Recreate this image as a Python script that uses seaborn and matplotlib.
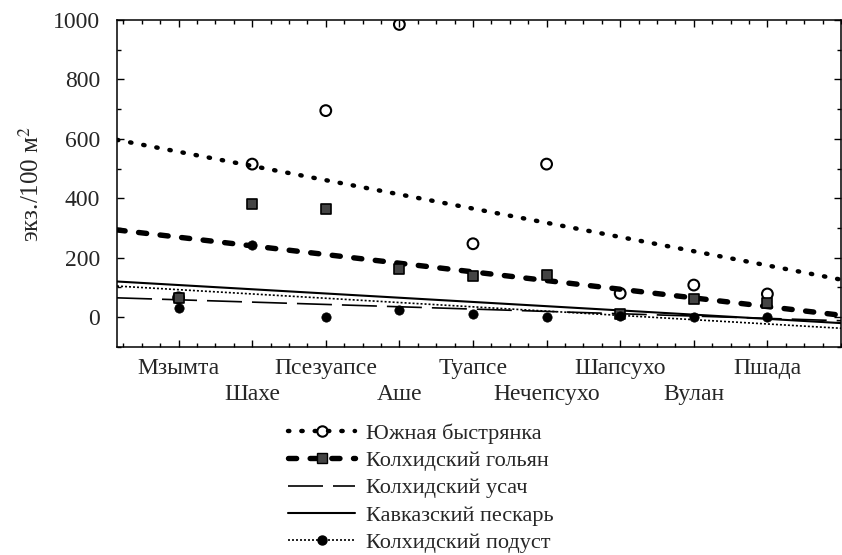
import numpy as np
import pandas as pd
import matplotlib
matplotlib.use("Agg")
import matplotlib.pyplot as plt
from matplotlib.lines import Line2D
from matplotlib.ticker import MultipleLocator, FixedLocator
import seaborn as sns

# ---- data ----
rivers = ["Мзымта", "Шахе", "Псезуапсе", "Аше", "Туапсе",
          "Нечепсухо", "Шапсухо", "Вулан", "Пшада"]
bystryanka = [65, 515, 695, 985, 247, 515, 80, 108, 78]   # Южная быстрянка
golyan = [65, 380, 363, 162, 139, 142, 12, 61, 47]         # Колхидский гольян
podust = [30, 244, 0, 24, 10, 0, 5, 0, 0]                  # Колхидский подуст
# trend lines shown without points: value at left edge, value at right edge
usach_trend = [65, -12]     # Колхидский усач
peskar_trend = [120, -20]   # Кавказский пескарь
yticks = [0, 200, 400, 600, 800, 1000]
species = ["Южная быстрянка", "Колхидский гольян", "Колхидский усач",
           "Кавказский пескарь", "Колхидский подуст"]

sns.set_theme(style="white")
plt.rcParams["font.family"] = ["Liberation Serif", "DejaVu Serif"]
plt.rcParams["mathtext.fontset"] = "stix"

FS = 17

fig = plt.figure(figsize=(8.42, 5.55), dpi=100)
ax = fig.add_axes([0.139, 0.375, 0.8598, 0.589])

pos = np.arange(1, len(rivers) + 1)
XLIM = (0.164, 10.0)
ax.set_xlim(*XLIM)
ax.set_ylim(-100, 1000)

df = pd.DataFrame({"x": pos, "b": bystryanka, "g": golyan, "p": podust})

st_b = dict(color="black", lw=3.2, linestyle=(0, (0.3, 2.7)), dash_capstyle="round")
st_g = dict(color="black", lw=3.9, linestyle=(0, (1.5, 2.5)), dash_capstyle="round")
st_u = dict(color="black", lw=1.2, linestyle=(0, (21, 6)))
st_k = dict(color="black", lw=1.5, linestyle="-")
st_p = dict(color="black", lw=1.2, linestyle=(0, (1.2, 1.2)))

sns.regplot(data=df, x="x", y="b", scatter=False, ci=None, truncate=False, ax=ax, line_kws=st_b)
sns.regplot(data=df, x="x", y="g", scatter=False, ci=None, truncate=False, ax=ax, line_kws=st_g)
sns.regplot(data=df, x="x", y="p", scatter=False, ci=None, truncate=False, ax=ax, line_kws=st_p)
ax.plot(list(XLIM), usach_trend, **st_u)
ax.plot(list(XLIM), peskar_trend, **st_k)

sns.scatterplot(data=df, x="x", y="b", marker="o", s=60, facecolor="none",
                edgecolor="black", linewidth=1.5, ax=ax, zorder=5)
sns.scatterplot(data=df, x="x", y="g", marker="s", s=45, color="#444444",
                edgecolor="black", linewidth=1.2, ax=ax, zorder=5)
sns.scatterplot(data=df, x="x", y="p", marker="o", s=45, color="black",
                edgecolor="black", linewidth=0.5, ax=ax, zorder=5)

ax.set_xlim(*XLIM)
ax.set_ylim(-100, 1000)

# first row of river names (odd positions) on the main axis
ax.xaxis.set_major_locator(FixedLocator(pos))
ax.set_xticklabels([r if i % 2 == 0 else "" for i, r in enumerate(rivers)], fontsize=FS)
ax.xaxis.set_minor_locator(MultipleLocator(0.25))
ax.set_yticks(yticks)
ax.set_yticklabels([str(v) for v in yticks], fontsize=FS)
ax.yaxis.set_minor_locator(MultipleLocator(100))
ax.tick_params(which="both", direction="in", top=True, right=True, bottom=True, left=True,
               color="black", width=1.0)
ax.tick_params(which="major", length=5)
ax.tick_params(which="minor", length=3)
ax.tick_params(axis="x", which="major", pad=8)
ax.tick_params(axis="y", which="major", pad=12)
for s in ax.spines.values():
    s.set_color("black")
    s.set_linewidth(1.1)

# second row of river names (even positions)
sec = ax.secondary_xaxis("bottom")
sec.set_xticks(pos[1::2])
sec.set_xticklabels(rivers[1::2], fontsize=FS)
sec.tick_params(length=0, pad=27)
sec.spines["bottom"].set_visible(False)

ax.set_xlabel("")
ax.set_ylabel("экз./100 м$^2$", fontsize=18, labelpad=7)

handles = [
    Line2D([], [], marker="o", markersize=7.5, markerfacecolor="none", markeredgecolor="black",
           markeredgewidth=1.5, **st_b),
    Line2D([], [], marker="s", markersize=6.5, markerfacecolor="#444444", markeredgecolor="black", **st_g),
    Line2D([], [], **st_u),
    Line2D([], [], **st_k),
    Line2D([], [], marker="o", markersize=6.5, markerfacecolor="black", markeredgecolor="black", **st_p),
]
fig.legend(handles, species, loc="upper center", bbox_to_anchor=(0.5, 0.265),
           frameon=False, fontsize=16, handlelength=3.0, labelspacing=0.3,
           handletextpad=0.5, borderpad=0.2)

fig.savefig("out.png", dpi=100)
